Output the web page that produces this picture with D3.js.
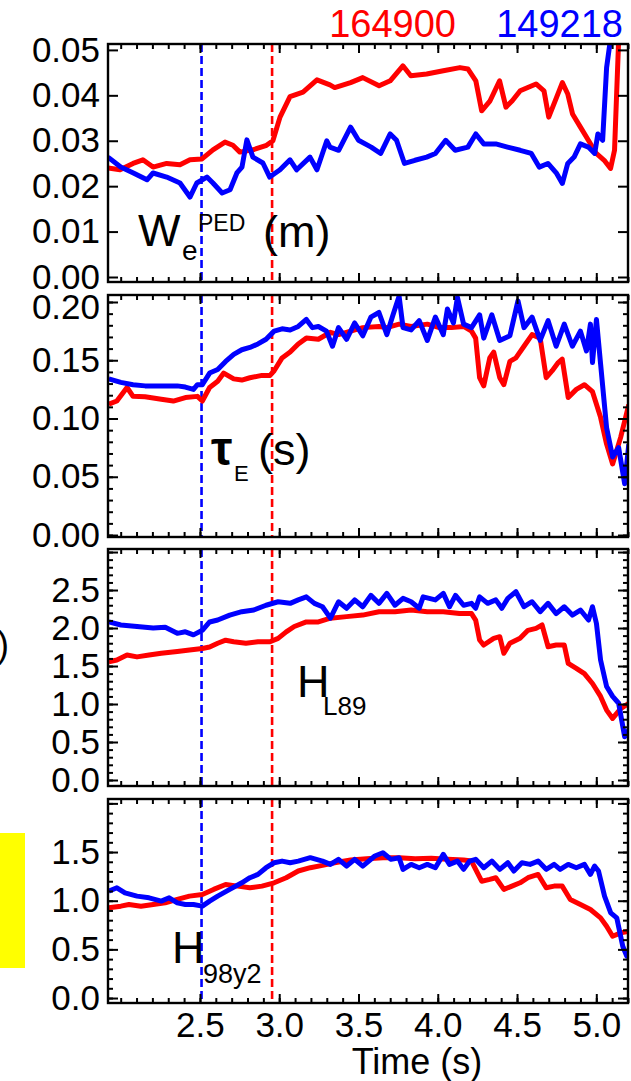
<!DOCTYPE html>
<html>
<head>
<meta charset="utf-8">
<script src="https://cdn.jsdelivr.net/npm/d3@7"></script>
<style>
  body { margin: 0; background: #fff; }
  svg { display: block; font-family: "Liberation Sans", Arial, Helvetica, sans-serif; }
</style>
</head>
<body>
<svg width="631" height="1081"></svg>
<script>
// ---- Data
const shots = ['164900', '149218'];
const shotColors = ['#ff0000', '#0000ff'];
const timeRange = [1.92, 5.2];
const lhTransition = [2.955, 2.51];   // dashed markers for 164900 (red) and 149218 (blue)

// W_e^PED (m)
const wpedT164900 = [1.92, 1.996, 2.078, 2.14, 2.204, 2.29, 2.374, 2.437, 2.513, 2.582, 2.658, 2.708, 2.752, 2.834, 2.92, 2.96, 3.005, 3.068, 3.15, 3.238, 3.32, 3.35, 3.45, 3.527, 3.63, 3.70, 3.78, 3.83, 3.93, 4.035, 4.14, 4.19, 4.24, 4.277, 4.33, 4.39, 4.43, 4.47, 4.52, 4.62, 4.67, 4.70, 4.75, 4.786, 4.82, 4.85, 4.90, 4.95, 5.0, 5.05, 5.09, 5.115, 5.14];
const wped164900 = [0.024, 0.0236, 0.025, 0.0258, 0.0242, 0.025, 0.0247, 0.0258, 0.026, 0.028, 0.0297, 0.029, 0.0275, 0.028, 0.029, 0.030, 0.0352, 0.0397, 0.0407, 0.0434, 0.0423, 0.0417, 0.0428, 0.0439, 0.0421, 0.0432, 0.0465, 0.0443, 0.0447, 0.0454, 0.0461, 0.0458, 0.0432, 0.0366, 0.0388, 0.0432, 0.0374, 0.0388, 0.041, 0.0425, 0.041, 0.0352, 0.0396, 0.0428, 0.0403, 0.0359, 0.033, 0.0301, 0.0272, 0.0257, 0.0239, 0.0279, 0.0512];
const wpedT149218 = [1.92, 2.0, 2.08, 2.166, 2.204, 2.29, 2.374, 2.437, 2.48, 2.544, 2.582, 2.64, 2.69, 2.733, 2.765, 2.796, 2.834, 2.897, 2.94, 3.005, 3.068, 3.11, 3.194, 3.238, 3.30, 3.32, 3.375, 3.45, 3.50, 3.58, 3.64, 3.70, 3.74, 3.79, 3.856, 3.93, 3.985, 4.05, 4.11, 4.19, 4.24, 4.29, 4.366, 4.44, 4.52, 4.59, 4.64, 4.695, 4.75, 4.786, 4.82, 4.86, 4.90, 4.95, 4.99, 5.01, 5.04, 5.065, 5.085];
const wped149218 = [0.0264, 0.0242, 0.0229, 0.0214, 0.0229, 0.022, 0.0207, 0.0176, 0.0207, 0.022, 0.0207, 0.0185, 0.0192, 0.0229, 0.0242, 0.0302, 0.0264, 0.0251, 0.022, 0.0236, 0.0258, 0.0236, 0.0264, 0.0236, 0.030, 0.0286, 0.0279, 0.033, 0.0301, 0.0286, 0.0272, 0.0315, 0.0301, 0.025, 0.0257, 0.0264, 0.0272, 0.0301, 0.0279, 0.0286, 0.0315, 0.0293, 0.0293, 0.0286, 0.0279, 0.0272, 0.0242, 0.025, 0.0228, 0.0206, 0.025, 0.0264, 0.0293, 0.0286, 0.0272, 0.0315, 0.0301, 0.0461, 0.0512];

// tau_E (s)
const tauT164900 = [1.925, 1.976, 2.04, 2.078, 2.154, 2.256, 2.332, 2.408, 2.484, 2.515, 2.561, 2.612, 2.65, 2.713, 2.764, 2.815, 2.891, 2.942, 2.968, 3.018, 3.069, 3.12, 3.171, 3.247, 3.323, 3.374, 3.451, 3.527, 3.629, 3.679, 3.756, 3.832, 3.934, 4.01, 4.086, 4.163, 4.213, 4.239, 4.264, 4.29, 4.328, 4.353, 4.391, 4.417, 4.455, 4.493, 4.544, 4.595, 4.646, 4.684, 4.722, 4.76, 4.785, 4.823, 4.874, 4.925, 4.976, 5.027, 5.065, 5.103, 5.154, 5.205];
const tau164900 = [0.1123, 0.115, 0.1266, 0.119, 0.1186, 0.1166, 0.115, 0.118, 0.119, 0.115, 0.1266, 0.132, 0.139, 0.134, 0.133, 0.135, 0.137, 0.137, 0.141, 0.152, 0.157, 0.164, 0.169, 0.168, 0.174, 0.172, 0.175, 0.178, 0.179, 0.178, 0.181, 0.179, 0.181, 0.178, 0.178, 0.179, 0.175, 0.169, 0.135, 0.128, 0.152, 0.157, 0.135, 0.129, 0.149, 0.152, 0.162, 0.172, 0.169, 0.135, 0.141, 0.148, 0.151, 0.118, 0.125, 0.129, 0.123, 0.101, 0.078, 0.061, 0.084, 0.112];
const tauT149218 = [1.925, 2.001, 2.078, 2.154, 2.256, 2.357, 2.408, 2.459, 2.484, 2.515, 2.561, 2.612, 2.662, 2.713, 2.764, 2.815, 2.866, 2.917, 2.968, 3.018, 3.069, 3.12, 3.171, 3.209, 3.247, 3.298, 3.336, 3.374, 3.425, 3.476, 3.527, 3.578, 3.629, 3.679, 3.718, 3.756, 3.781, 3.832, 3.883, 3.934, 3.985, 4.035, 4.061, 4.099, 4.124, 4.163, 4.213, 4.264, 4.29, 4.341, 4.391, 4.455, 4.506, 4.544, 4.595, 4.646, 4.696, 4.747, 4.798, 4.849, 4.9, 4.938, 4.963, 4.976, 5.001, 5.027, 5.065, 5.103, 5.141, 5.179, 5.205];
const tau149218 = [0.134, 0.131, 0.129, 0.128, 0.128, 0.128, 0.127, 0.125, 0.129, 0.129, 0.139, 0.142, 0.149, 0.155, 0.159, 0.161, 0.164, 0.168, 0.175, 0.177, 0.176, 0.179, 0.185, 0.178, 0.179, 0.175, 0.162, 0.178, 0.168, 0.182, 0.171, 0.187, 0.191, 0.172, 0.189, 0.205, 0.178, 0.176, 0.184, 0.167, 0.187, 0.172, 0.194, 0.182, 0.204, 0.181, 0.178, 0.189, 0.169, 0.189, 0.167, 0.171, 0.201, 0.178, 0.187, 0.167, 0.184, 0.162, 0.181, 0.162, 0.175, 0.158, 0.181, 0.148, 0.185, 0.147, 0.092, 0.067, 0.075, 0.044, 0.078];

// H_L89
const hl89T164900 = [1.925, 1.976, 2.04, 2.103, 2.179, 2.256, 2.357, 2.434, 2.515, 2.561, 2.612, 2.662, 2.713, 2.79, 2.866, 2.942, 2.993, 3.044, 3.095, 3.171, 3.247, 3.323, 3.425, 3.527, 3.629, 3.73, 3.832, 3.934, 4.035, 4.137, 4.213, 4.239, 4.264, 4.29, 4.353, 4.391, 4.417, 4.455, 4.519, 4.569, 4.62, 4.658, 4.696, 4.747, 4.798, 4.823, 4.874, 4.925, 4.976, 5.027, 5.065, 5.103, 5.154, 5.205];
const hl89164900 = [1.557, 1.58, 1.645, 1.62, 1.645, 1.667, 1.69, 1.71, 1.73, 1.75, 1.80, 1.84, 1.82, 1.80, 1.82, 1.82, 1.864, 1.95, 2.02, 2.08, 2.08, 2.13, 2.15, 2.17, 2.215, 2.215, 2.237, 2.215, 2.215, 2.19, 2.19, 2.105, 1.842, 1.776, 1.864, 1.886, 1.667, 1.80, 1.864, 1.97, 1.996, 2.04, 1.754, 1.776, 1.776, 1.535, 1.47, 1.40, 1.27, 1.10, 0.92, 0.81, 0.94, 1.01];
const hl89T149218 = [1.925, 2.001, 2.103, 2.205, 2.281, 2.357, 2.408, 2.459, 2.515, 2.561, 2.612, 2.688, 2.764, 2.84, 2.917, 2.993, 3.069, 3.12, 3.171, 3.222, 3.273, 3.323, 3.374, 3.425, 3.476, 3.527, 3.578, 3.629, 3.679, 3.73, 3.781, 3.832, 3.883, 3.908, 3.985, 4.035, 4.074, 4.112, 4.163, 4.213, 4.239, 4.264, 4.315, 4.366, 4.404, 4.442, 4.493, 4.544, 4.595, 4.646, 4.696, 4.747, 4.798, 4.849, 4.9, 4.951, 4.976, 5.001, 5.027, 5.065, 5.103, 5.141, 5.179, 5.205];
const hl89149218 = [2.08, 2.04, 2.02, 2.00, 2.01, 1.93, 1.95, 1.91, 1.97, 2.08, 2.105, 2.17, 2.215, 2.237, 2.30, 2.346, 2.325, 2.37, 2.41, 2.325, 2.28, 2.13, 2.346, 2.26, 2.37, 2.28, 2.43, 2.325, 2.456, 2.30, 2.39, 2.346, 2.26, 2.41, 2.37, 2.456, 2.28, 2.43, 2.30, 2.325, 2.26, 2.41, 2.325, 2.37, 2.26, 2.39, 2.478, 2.28, 2.346, 2.215, 2.325, 2.19, 2.28, 2.17, 2.237, 2.105, 2.28, 2.06, 1.58, 1.23, 1.10, 1.01, 0.57, 0.66];

// H_98y2
const h98T164900 = [1.925, 2.001, 2.052, 2.128, 2.205, 2.281, 2.357, 2.434, 2.515, 2.586, 2.662, 2.739, 2.815, 2.891, 2.968, 3.044, 3.12, 3.196, 3.273, 3.349, 3.451, 3.552, 3.654, 3.756, 3.857, 3.959, 4.061, 4.163, 4.213, 4.239, 4.277, 4.328, 4.366, 4.417, 4.468, 4.519, 4.569, 4.633, 4.684, 4.734, 4.785, 4.836, 4.9, 4.963, 5.027, 5.065, 5.103, 5.154, 5.205];
const h98164900 = [0.927, 0.944, 0.961, 0.944, 0.961, 0.978, 1.013, 1.047, 1.064, 1.116, 1.167, 1.15, 1.133, 1.15, 1.184, 1.236, 1.305, 1.339, 1.363, 1.39, 1.418, 1.431, 1.442, 1.442, 1.431, 1.435, 1.425, 1.418, 1.407, 1.322, 1.20, 1.219, 1.236, 1.116, 1.15, 1.184, 1.236, 1.27, 1.133, 1.15, 1.15, 1.013, 0.961, 0.91, 0.824, 0.738, 0.635, 0.669, 0.687];
const h98T149218 = [1.925, 1.976, 2.027, 2.103, 2.179, 2.256, 2.306, 2.357, 2.408, 2.459, 2.515, 2.561, 2.612, 2.688, 2.764, 2.815, 2.866, 2.917, 2.968, 3.018, 3.069, 3.12, 3.196, 3.273, 3.323, 3.374, 3.425, 3.476, 3.527, 3.603, 3.654, 3.705, 3.756, 3.781, 3.832, 3.883, 3.934, 3.985, 4.035, 4.074, 4.124, 4.163, 4.201, 4.239, 4.29, 4.341, 4.391, 4.442, 4.48, 4.531, 4.582, 4.633, 4.684, 4.734, 4.772, 4.823, 4.874, 4.925, 4.963, 4.989, 5.014, 5.052, 5.091, 5.129, 5.167, 5.192, 5.218];
const h98149218 = [1.099, 1.133, 1.081, 1.047, 1.03, 0.996, 1.03, 0.978, 0.961, 0.961, 0.944, 0.996, 1.047, 1.116, 1.184, 1.236, 1.27, 1.339, 1.39, 1.407, 1.39, 1.407, 1.442, 1.407, 1.373, 1.425, 1.356, 1.425, 1.356, 1.459, 1.493, 1.425, 1.442, 1.322, 1.373, 1.339, 1.373, 1.339, 1.476, 1.373, 1.407, 1.322, 1.407, 1.425, 1.339, 1.407, 1.322, 1.39, 1.305, 1.39, 1.373, 1.407, 1.322, 1.373, 1.322, 1.373, 1.339, 1.373, 1.27, 1.356, 1.305, 1.047, 0.875, 0.824, 0.532, 0.43, 0.498];

// ---- Tick values
const xMajor = [2.5, 3.0, 3.5, 4.0, 4.5, 5.0];
const xMinor = d3.range(20, 53).map(d => d / 10);
const yTicksWped = [0, 0.01, 0.02, 0.03, 0.04, 0.05];
const yTicksTau = [0, 0.05, 0.10, 0.15, 0.20];
const yMinorTau = d3.range(0, 21).map(d => d / 100);
const yTicksH89 = [0, 0.5, 1.0, 1.5, 2.0, 2.5, 3.0];
const yLabelsH89 = [0, 0.5, 1.0, 1.5, 2.0, 2.5];
const yMinorH89 = d3.range(0, 31).map(d => d / 10);
const yTicksH98 = [0, 0.5, 1.0, 1.5, 2.0];
const yLabelsH98 = [0, 0.5, 1.0, 1.5];
const yMinorH98 = d3.range(0, 21).map(d => d / 10);

// ---- Layout
const svg = d3.select('svg');
const left = 108, right = 628;
const FONT = '"Liberation Sans", Arial, Helvetica, sans-serif';

const x = d3.scaleLinear().domain(timeRange).range([left, right]);

const panels = [
  { top: 44, bottom: 282, domain: [-0.0011, 0.0513], major: yTicksWped, labels: yTicksWped, minor: [], fmt: d3.format('.2f'), shiftTop: 0,
    series: [[wpedT164900, wped164900], [wpedT149218, wped149218]] },
  { top: 295, bottom: 537, domain: [-0.0017, 0.206], major: yTicksTau, labels: yTicksTau, minor: yMinorTau, fmt: d3.format('.2f'), shiftTop: 5,
    series: [[tauT164900, tau164900], [tauT149218, tau149218]] },
  { top: 549, bottom: 786, domain: [-0.079, 3.04], major: yTicksH89, labels: yLabelsH89, minor: yMinorH89, fmt: d3.format('.1f'), shiftTop: 0,
    series: [[hl89T164900, hl89164900], [hl89T149218, hl89149218]] },
  { top: 799, bottom: 1003, domain: [-0.051, 2.045], major: yTicksH98, labels: yLabelsH98, minor: yMinorH98, fmt: d3.format('.1f'), shiftTop: 0,
    series: [[h98T164900, h98164900], [h98T149218, h98149218]] }
];

// decorations cut from neighbouring figure
svg.append('rect').attr('x', 0).attr('y', 833).attr('width', 25).attr('height', 135).attr('fill', '#ffff00');
svg.append('text').attr('x', -3).attr('y', 657).attr('font-size', 36).attr('font-family', FONT).text(')');

const line = y => d3.line().x(d => x(d[0])).y(d => y(d[1]));

function styleAxis(g, size) {
  g.attr('font-size', size).attr('font-family', FONT);
  g.select('.domain').remove();
  g.selectAll('line').attr('stroke', '#000').attr('stroke-width', 2);
  g.selectAll('text').attr('fill', '#000');
}

panels.forEach((p, i) => {
  const y = d3.scaleLinear().domain(p.domain).range([p.bottom, p.top]);
  const g = svg.append('g');

  g.append('clipPath').attr('id', 'clip' + i)
    .append('rect').attr('x', left).attr('y', p.top).attr('width', right - left).attr('height', p.bottom - p.top);

  const plot = g.append('g').attr('clip-path', `url(#clip${i})`);

  // dashed transition markers
  lhTransition.forEach((t, k) => {
    plot.append('line')
      .attr('x1', x(t)).attr('x2', x(t))
      .attr('y1', p.top).attr('y2', p.bottom)
      .attr('stroke', shotColors[k]).attr('stroke-width', 2.6)
      .attr('stroke-dasharray', '8,4');
  });

  // series
  p.series.forEach((s, k) => {
    plot.append('path')
      .datum(d3.zip(s[0], s[1]))
      .attr('fill', 'none')
      .attr('stroke', shotColors[k])
      .attr('stroke-width', 5)
      .attr('stroke-linejoin', 'round')
      .attr('d', line(y));
  });

  // axes: ticks inward on all four sides
  g.append('g').attr('transform', `translate(${left},0)`)
    .call(d3.axisLeft(y).tickValues(p.minor).tickSize(-5).tickFormat(''))
    .call(a => styleAxis(a, 35));
  g.append('g').attr('transform', `translate(${left},0)`)
    .call(d3.axisLeft(y).tickValues(p.major).tickSize(-10).tickPadding(8)
      .tickFormat(d => p.labels.includes(d) ? p.fmt(d) : ''))
    .call(a => styleAxis(a, 35))
    .call(a => a.selectAll('text').filter(d => d === d3.max(p.labels)).attr('dy', `calc(0.32em + ${p.shiftTop}px)`)
      .attr('transform', `translate(0,${p.shiftTop})`).attr('dy', '0.32em'));
  g.append('g').attr('transform', `translate(${right},0)`)
    .call(d3.axisRight(y).tickValues(p.minor).tickSize(-5).tickFormat(''))
    .call(a => styleAxis(a, 35));
  g.append('g').attr('transform', `translate(${right},0)`)
    .call(d3.axisRight(y).tickValues(p.major).tickSize(-10).tickFormat(''))
    .call(a => styleAxis(a, 35));

  g.append('g').attr('transform', `translate(0,${p.top})`)
    .call(d3.axisTop(x).tickValues(xMinor).tickSize(-5).tickFormat(''))
    .call(a => styleAxis(a, 35));
  g.append('g').attr('transform', `translate(0,${p.top})`)
    .call(d3.axisTop(x).tickValues(xMajor).tickSize(-9).tickFormat(''))
    .call(a => styleAxis(a, 35));
  g.append('g').attr('transform', `translate(0,${p.bottom})`)
    .call(d3.axisBottom(x).tickValues(xMinor).tickSize(-5).tickFormat(''))
    .call(a => styleAxis(a, 35));
  g.append('g').attr('transform', `translate(0,${p.bottom})`)
    .call(d3.axisBottom(x).tickValues(xMajor).tickSize(-9).tickPadding(9)
      .tickFormat(i === panels.length - 1 ? d3.format('.1f') : ''))
    .call(a => styleAxis(a, 35));

  // frame
  g.append('rect')
    .attr('x', left).attr('y', p.top)
    .attr('width', right - left).attr('height', p.bottom - p.top)
    .attr('fill', 'none').attr('stroke', '#000').attr('stroke-width', 2.4);
});

// ---- Texts
const txt = (xp, yp, size, s, color = '#000', anchor = 'start') =>
  svg.append('text').attr('x', xp).attr('y', yp).attr('font-size', size)
    .attr('font-family', FONT).attr('fill', color).attr('text-anchor', anchor).text(s);

// shot numbers
txt(456, 37, 38, shots[0], shotColors[0], 'end');
txt(623, 37, 38, shots[1], shotColors[1], 'end');

// panel labels
txt(138, 246, 45, 'W');
txt(182, 260, 28, 'e');
txt(198, 231, 23, 'PED');
txt(263, 247, 45, '(m)');

txt(211, 465, 48, 'τ').attr('font-weight', 'bold');
txt(234, 481, 22, 'E');
txt(258, 465, 45, '(s)');

txt(297, 697, 45, 'H');
txt(323, 715, 26, 'L89');

txt(172, 963, 45, 'H');
txt(203, 983, 27, '98y2');

// x-axis title
txt(417, 1074, 36, 'Time (s)', '#000', 'middle');
</script>
</body>
</html>
